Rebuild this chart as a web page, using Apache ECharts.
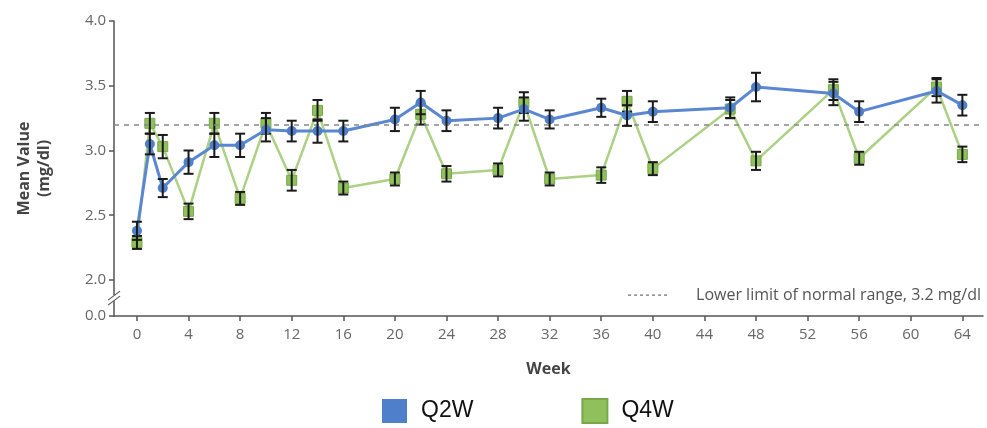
<!DOCTYPE html>
<html>
<head>
<meta charset="utf-8">
<script src="https://cdn.jsdelivr.net/npm/echarts@6/dist/echarts.min.js"></script>
<style>html,body{margin:0;padding:0;background:#fff}#c{width:987px;height:428px}</style>
</head>
<body>
<div id="c"></div>
<script>
// ---- data ----
const weeks   = [0, 1, 2, 4, 6, 8, 10, 12, 14, 16, 20, 22, 24, 28, 30, 32, 36, 38, 40, 46, 48, 54, 56, 62, 64];
const q2wMean = [2.38, 3.05, 2.71, 2.91, 3.04, 3.04, 3.16, 3.15, 3.15, 3.15, 3.24, 3.37, 3.23, 3.25, 3.32, 3.24, 3.33, 3.27, 3.30, 3.33, 3.49, 3.44, 3.30, 3.46, 3.35];
const q2wErr  = [0.07, 0.08, 0.07, 0.09, 0.09, 0.09, 0.09, 0.08, 0.09, 0.08, 0.09, 0.09, 0.08, 0.08, 0.09, 0.07, 0.07, 0.08, 0.08, 0.08, 0.11, 0.09, 0.08, 0.09, 0.08];
const q4wMean = [2.29, 3.21, 3.03, 2.53, 3.21, 2.63, 3.21, 2.77, 3.31, 2.71, 2.78, 3.28, 2.82, 2.85, 3.37, 2.78, 2.81, 3.38, 2.86, 3.32, 2.92, 3.47, 2.94, 3.49, 2.97];
const q4wErr  = [0.05, 0.08, 0.09, 0.06, 0.08, 0.05, 0.08, 0.08, 0.08, 0.05, 0.05, 0.08, 0.06, 0.05, 0.08, 0.05, 0.06, 0.08, 0.05, 0.07, 0.07, 0.08, 0.05, 0.07, 0.06];
const xTicks  = [0, 4, 8, 12, 16, 20, 24, 28, 32, 36, 40, 44, 48, 52, 56, 60, 64];
const yTicks  = [2.0, 2.5, 3.0, 3.5, 4.0];
const lowerLimit = 3.2;
const seriesNames = ['Q2W', 'Q4W'];
const refLabel = 'Lower limit of normal range, 3.2 mg/dl';

// ---- style ----
const BLUE = '#4f7fca', BLUE_LINE = '#5a87cf';
const GREEN = '#8fc05c', GREEN_LINE = '#acd084';
const AX = '#555';
const FONT = '"Open Sans", "Liberation Sans", sans-serif';
const X_MIN = -1.78, X_MAX = 65.6;
const Y_MIN = 1.722, Y_MAX = 4.0;

const chart = echarts.init(document.getElementById('c'));

function pts(means) { return weeks.map((w, i) => [w, means[i]]); }
function errData(means, errs) { return weeks.map((w, i) => [w, means[i] - errs[i], means[i] + errs[i]]); }

function errRender(params, api) {
  const x = api.value(0);
  const lo = api.coord([x, api.value(1)]);
  const hi = api.coord([x, api.value(2)]);
  const hw = 5;
  const st = { stroke: '#1a1a1a', lineWidth: 2 };
  return {
    type: 'group',
    children: [
      { type: 'line', shape: { x1: lo[0], y1: lo[1], x2: hi[0], y2: hi[1] }, style: st },
      { type: 'line', shape: { x1: lo[0] - hw, y1: lo[1], x2: lo[0] + hw, y2: lo[1] }, style: st },
      { type: 'line', shape: { x1: hi[0] - hw, y1: hi[1], x2: hi[0] + hw, y2: hi[1] }, style: st }
    ]
  };
}

const yLabelVals = [Y_MIN].concat(yTicks);

chart.setOption({
  animation: false,
  backgroundColor: '#fff',
  grid: { left: 114, right: 4, top: 21, bottom: 112, containLabel: false, outerBoundsMode: 'none' },
  legend: {
    data: [
      { name: seriesNames[0], icon: 'rect', itemStyle: { color: BLUE } },
      { name: seriesNames[1], icon: 'rect', itemStyle: { color: GREEN } }
    ],
    left: 377, top: 393,
    itemWidth: 25, itemHeight: 24, itemGap: 108,
    textStyle: { fontSize: 23, color: '#111', fontFamily: '"Liberation Sans", sans-serif', padding: [1, 0, 0, 9] }
  },
  xAxis: {
    type: 'value', min: X_MIN, max: X_MAX,
    name: 'Week', nameLocation: 'middle', nameGap: 45,
    nameTextStyle: { fontSize: 16, fontWeight: 'bold', color: '#444', fontFamily: FONT },
    axisLine: { onZero: false, lineStyle: { color: AX, width: 1.5 } },
    axisTick: { show: true, customValues: xTicks, length: 5, lineStyle: { color: AX, width: 1.5 } },
    axisLabel: { customValues: xTicks, color: '#666', fontSize: 15, margin: 11, fontFamily: FONT },
    splitLine: { show: false }
  },
  yAxis: {
    type: 'value', min: Y_MIN, max: Y_MAX,
    name: 'Mean Value\n(mg/dl)', nameLocation: 'middle', nameGap: 60, nameRotate: 90,
    nameTextStyle: { fontSize: 16, fontWeight: 'bold', color: '#444', fontFamily: FONT, lineHeight: 20 },
    axisLine: { show: true, onZero: false, lineStyle: { color: AX, width: 1.5 } },
    axisTick: { show: true, customValues: yLabelVals, length: 5, lineStyle: { color: AX, width: 1.5 } },
    axisLabel: {
      customValues: yLabelVals, color: '#666', fontSize: 15, margin: 8, fontFamily: FONT,
      formatter: v => (v < 1.9 ? '0.0' : v.toFixed(1))
    },
    splitLine: { show: false }
  },
  series: [
    {
      name: seriesNames[1], type: 'line', data: pts(q4wMean), z: 2,
      symbol: 'rect', symbolSize: 10,
      lineStyle: { color: GREEN_LINE, width: 2.5 },
      itemStyle: { color: GREEN, borderColor: '#79a84a', borderWidth: 1 }
    },
    {
      name: seriesNames[1] + ' err', type: 'custom', data: errData(q4wMean, q4wErr), z: 3,
      renderItem: errRender, encode: { x: 0, y: [1, 2] }, silent: true
    },
    {
      name: seriesNames[0], type: 'line', data: pts(q2wMean), z: 4,
      symbol: 'circle', symbolSize: 10,
      lineStyle: { color: BLUE_LINE, width: 3 },
      itemStyle: { color: BLUE },
      markLine: {
        silent: true, symbol: 'none', label: { show: false },
        lineStyle: { color: '#888', type: [5, 5], width: 1.5 },
        data: [{ yAxis: lowerLimit }]
      }
    },
    {
      name: seriesNames[0] + ' err', type: 'custom', data: errData(q2wMean, q2wErr), z: 5,
      renderItem: errRender, encode: { x: 0, y: [1, 2] }, silent: true
    }
  ]
});

// axis break marker and reference-line key
const bx = chart.convertToPixel({ xAxisIndex: 0 }, X_MIN);
const by = chart.convertToPixel({ yAxisIndex: 0 }, 1.86);
const gx = chart.convertToPixel({ xAxisIndex: 0 }, X_MAX);
const ky = chart.convertToPixel({ yAxisIndex: 0 }, 1.86) - 3;
chart.setOption({
  graphic: [
    { type: 'rect', shape: { x: bx - 6, y: by - 3, width: 12, height: 6 }, style: { fill: '#fff' }, z: 100 },
    { type: 'line', shape: { x1: bx - 6, y1: by + 2, x2: bx + 6, y2: by - 7 }, style: { stroke: AX, lineWidth: 1.2 }, z: 101 },
    { type: 'line', shape: { x1: bx - 6, y1: by + 7, x2: bx + 6, y2: by - 2 }, style: { stroke: AX, lineWidth: 1.2 }, z: 101 },
    { type: 'text', x: gx - 2, y: ky, style: { text: refLabel, align: 'right', verticalAlign: 'middle', fill: '#555', fontSize: 16, fontFamily: FONT }, z: 100 },
    { type: 'line', shape: { x1: gx - 355, y1: ky, x2: gx - 315, y2: ky }, style: { stroke: '#888', lineWidth: 1.5, lineDash: [3, 3] }, z: 100 }
  ]
});
</script>
</body>
</html>
